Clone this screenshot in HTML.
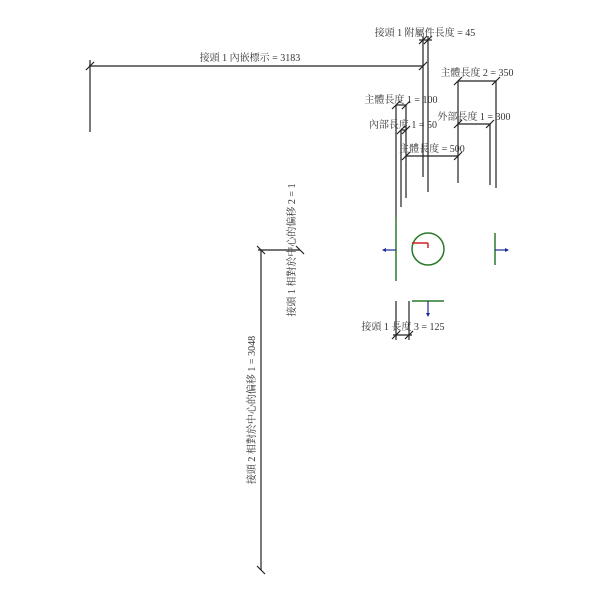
<!DOCTYPE html>
<html><head><meta charset="utf-8"><style>
html,body{margin:0;padding:0;background:#fff;}
svg{display:block;}
text{font-family:"Liberation Serif","Noto Serif CJK SC","Noto Sans CJK TC",serif;font-size:10px;fill:#333;}
</style></head><body>
<svg width="600" height="600" viewBox="0 0 600 600" xmlns="http://www.w3.org/2000/svg">
<g stroke="#222" stroke-width="1.2" fill="none">
<!-- top long dim -->
<line x1="89" y1="66" x2="423" y2="66"/>
<line x1="90" y1="60" x2="90" y2="132"/>
<line x1="86" y1="70" x2="94" y2="62"/>
<line x1="419" y1="70" x2="427" y2="62"/>
<!-- attach len 45 -->
<line x1="423" y1="36" x2="423" y2="177"/>
<line x1="428" y1="36" x2="428" y2="192"/>
<line x1="419" y1="40" x2="432" y2="40"/>
<line x1="419" y1="44" x2="427" y2="36"/>
<line x1="424" y1="44" x2="432" y2="36"/>
<!-- body len 2 -->
<line x1="458" y1="81" x2="496" y2="81"/>
<line x1="458" y1="81" x2="458" y2="183"/>
<line x1="496" y1="81" x2="496" y2="188"/>
<line x1="454" y1="85" x2="462" y2="77"/>
<line x1="492" y1="85" x2="500" y2="77"/>
<!-- outer len -->
<line x1="458" y1="124" x2="490" y2="124"/>
<line x1="490" y1="124" x2="490" y2="185"/>
<line x1="454" y1="128" x2="462" y2="120"/>
<line x1="486" y1="128" x2="494" y2="120"/>
<!-- body len 1 -->
<line x1="396" y1="105" x2="406" y2="105"/>
<line x1="396" y1="105" x2="396" y2="217"/>
<line x1="406" y1="105" x2="406" y2="198"/>
<line x1="392" y1="109" x2="400" y2="101"/>
<line x1="402" y1="109" x2="410" y2="101"/>
<!-- inner len -->
<line x1="401" y1="130" x2="406" y2="130"/>
<line x1="401" y1="130" x2="401" y2="207"/>
<line x1="397" y1="134" x2="405" y2="126"/>
<line x1="402" y1="134" x2="410" y2="126"/>
<!-- body len 500 -->
<line x1="406" y1="156" x2="458" y2="156"/>
<line x1="402" y1="160" x2="410" y2="152"/>
<line x1="454" y1="160" x2="462" y2="152"/>
<!-- bottom len 3 -->
<line x1="396" y1="301" x2="396" y2="340"/>
<line x1="409" y1="301" x2="409" y2="340"/>
<line x1="393" y1="335" x2="412" y2="335"/>
<line x1="392" y1="339" x2="400" y2="331"/>
<line x1="405" y1="339" x2="413" y2="331"/>
<!-- left dims -->
<line x1="258" y1="250" x2="300" y2="250"/>
<line x1="261" y1="250" x2="261" y2="570"/>
<line x1="257" y1="246" x2="265" y2="254"/>
<line x1="296" y1="246" x2="304" y2="254"/>
<line x1="257" y1="566" x2="265" y2="574"/>
</g>
<g stroke="#2a7a2a" stroke-width="1.5" fill="none">
<line x1="396" y1="217" x2="396" y2="281"/>
<circle cx="428" cy="249" r="16"/>
<line x1="495" y1="233" x2="495" y2="265"/>
<line x1="412" y1="301" x2="444" y2="301"/>
</g>
<g stroke="#c22" stroke-width="1.5"><line x1="412" y1="243" x2="428" y2="243"/><line x1="428" y1="243" x2="428" y2="248"/></g>
<g stroke="#1a2a9a" stroke-width="1.2"><line x1="383" y1="250" x2="396" y2="250"/><line x1="495" y1="250" x2="508" y2="250"/><line x1="428" y1="301" x2="428" y2="315"/></g>
<g fill="#1a2a9a"><polygon points="382,250 386,248 386,252"/><polygon points="509,250 505,248 505,252"/><polygon points="428,317 426,313 430,313"/></g>
<text x="425" y="36" text-anchor="middle">接頭 1 附屬件長度 = 45</text>
<text x="250" y="61" text-anchor="middle">接頭 1 內嵌標示 = 3183</text>
<text x="477" y="76" text-anchor="middle">主體長度 2 = 350</text>
<text x="401" y="103" text-anchor="middle">主體長度 1 = 100</text>
<text x="474" y="120" text-anchor="middle">外部長度 1 = 300</text>
<text x="403" y="128" text-anchor="middle">內部長度 1 = 50</text>
<text x="432" y="152" text-anchor="middle">主體長度 = 500</text>
<text x="403" y="330" text-anchor="middle">接頭 1 長度 3 = 125</text>
<text transform="translate(295,250) rotate(-90)" text-anchor="middle">接頭 1 相對於中心的偏移 2 = 1</text>
<text transform="translate(255,410) rotate(-90)" text-anchor="middle">接頭 2 相對於中心的偏移 1 = 3048</text>
</svg>
</body></html>
